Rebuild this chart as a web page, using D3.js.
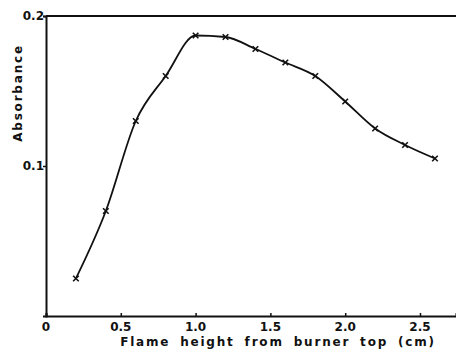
<!DOCTYPE html>
<html lang="en">
<head>
<meta charset="utf-8">
<title>Absorbance vs flame height</title>
<script src="https://cdn.jsdelivr.net/npm/d3@7"></script>
<style>
  body { margin: 0; background: #fff; }
  text { font-family: "DejaVu Sans", sans-serif; fill: #111; font-weight: bold; }
</style>
</head>
<body>
<script>
// flame height (cm) and measured absorbance
var heights = [0.2, 0.4, 0.6, 0.8, 1.0, 1.2, 1.4, 1.6, 1.8, 2.0, 2.2, 2.4, 2.6];
var absorbance = [0.025, 0.07, 0.13, 0.16, 0.187, 0.186, 0.178, 0.169, 0.16, 0.143, 0.125, 0.114, 0.105];
var xTicks = [0, 0.5, 1.0, 1.5, 2.0, 2.5];
var xTickLabels = ["0", "0.5", "1.0", "1.5", "2.0", "2.5"];
var yTicks = [0.1, 0.2];
var yTickLabels = ["0.1", "0.2"];

var w = 456, h = 351;
var mLeft = 46, mTop = 16, mRight = 456, mBottom = 316;

var svg = d3.select("body").append("svg")
    .attr("width", w)
    .attr("height", h);

var x = d3.scaleLinear().domain([0, (mRight - mLeft) / 149.6]).range([mLeft, mRight]);
var y = d3.scaleLinear().domain([0, 0.2]).range([mBottom, mTop]);

// frame: left, bottom and top lines
svg.append("g")
    .attr("transform", "translate(0," + mBottom + ")")
    .call(d3.axisBottom(x).tickValues(xTicks).tickSize(-3).tickFormat(""))
    .call(function(g) {
        g.select(".domain").attr("stroke-width", 2).attr("stroke", "#111");
        g.selectAll(".tick line").attr("stroke", "#111").attr("stroke-width", 1.5);
    });

svg.append("g")
    .attr("transform", "translate(" + mLeft + ",0)")
    .call(d3.axisLeft(y).tickValues(yTicks).tickSize(3).tickFormat(""))
    .call(function(g) {
        g.select(".domain").attr("stroke-width", 2).attr("stroke", "#111");
        g.selectAll(".tick line").attr("stroke", "#111").attr("stroke-width", 1.5);
    });

svg.append("line")
    .attr("x1", x(0)).attr("x2", mRight)
    .attr("y1", y(0.2)).attr("y2", y(0.2))
    .attr("stroke", "#111")
    .attr("stroke-width", 2);

// tick labels
svg.selectAll("text.xt")
    .data(xTicks)
    .enter()
    .append("text")
    .attr("class", "xt")
    .attr("x", function(d) { return x(d); })
    .attr("y", mBottom + 15)
    .attr("text-anchor", "middle")
    .attr("font-size", "12px")
    .text(function(d, i) { return xTickLabels[i]; });

svg.selectAll("text.yt")
    .data(yTicks)
    .enter()
    .append("text")
    .attr("class", "yt")
    .attr("x", mLeft - 2)
    .attr("y", function(d) { return y(d) + 4; })
    .attr("text-anchor", "end")
    .attr("font-size", "12px")
    .text(function(d, i) { return yTickLabels[i]; });

// axis titles
svg.append("text")
    .attr("x", 278)
    .attr("y", 346)
    .attr("text-anchor", "middle")
    .attr("font-size", "12px")
    .attr("letter-spacing", "1.8px")
    .attr("word-spacing", "4px")
    .text("Flame height from burner top (cm)");

svg.append("text")
    .attr("transform", "translate(22,93) rotate(-90)")
    .attr("text-anchor", "middle")
    .attr("font-size", "12px")
    .attr("letter-spacing", "1.8px")
    .text("Absorbance");

// curve
var pts = heights.map(function(d, i) { return [d, absorbance[i]]; });
var line = d3.line()
    .x(function(d) { return x(d[0]); })
    .y(function(d) { return y(d[1]); })
    .curve(d3.curveMonotoneX);

svg.append("path")
    .datum(pts)
    .attr("d", line)
    .attr("fill", "none")
    .attr("stroke", "#111")
    .attr("stroke-width", 1.8);

// x markers
var s = 2.8;
svg.selectAll("path.mk")
    .data(pts)
    .enter()
    .append("path")
    .attr("class", "mk")
    .attr("d", function(d) {
        var cx = x(d[0]), cy = y(d[1]);
        return "M" + (cx - s) + "," + (cy - s) + "L" + (cx + s) + "," + (cy + s) +
               "M" + (cx - s) + "," + (cy + s) + "L" + (cx + s) + "," + (cy - s);
    })
    .attr("stroke", "#111")
    .attr("stroke-width", 1.6);
</script>
</body>
</html>
